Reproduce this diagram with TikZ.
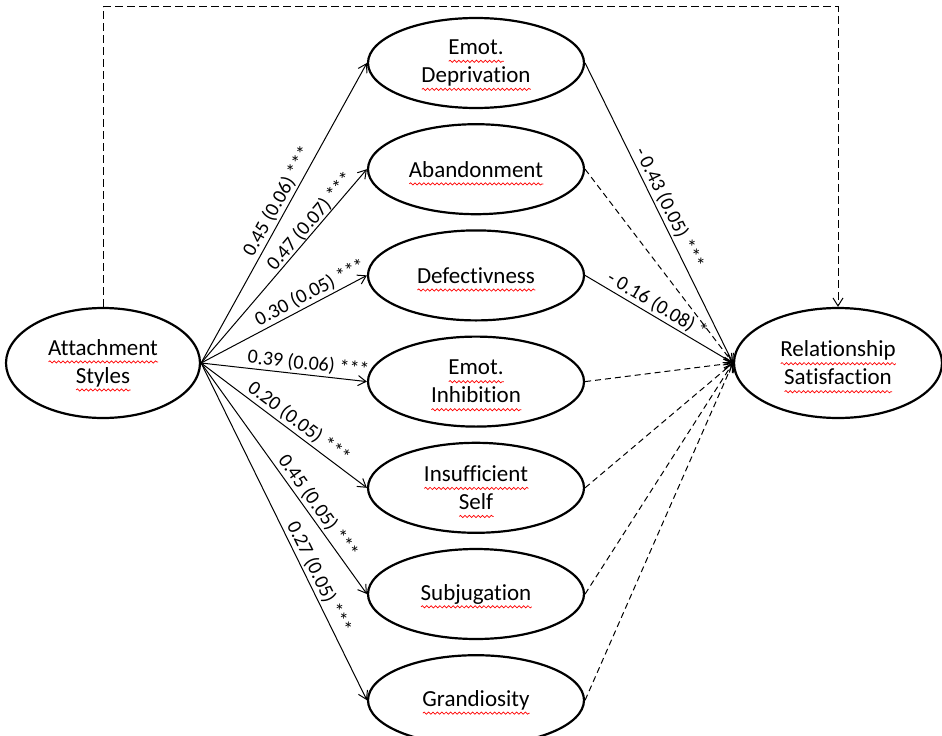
\documentclass[tikz,border=0pt]{standalone}
\usepackage{fontspec}
\setmainfont[Ligatures={NoCommon}]{Carlito}
\usepackage{xcolor}
\usetikzlibrary{shapes.geometric,positioning,arrows.meta,decorations.pathmorphing}
\newsavebox\spellbox
\newlength\spelllen
\newcommand{\spell}[1]{\sbox\spellbox{#1}\setlength\spelllen{\wd\spellbox}%
  \rlap{\smash{\tikz[baseline=0pt]\draw[red, line width=0.35pt, decorate, decoration={snake, amplitude=0.55pt, segment length=2.2pt}] (0pt,-3.4pt) -- (\spelllen,-3.4pt);}}\usebox\spellbox}

\begin{document}
\begin{tikzpicture}
\tikzstyle{construct}=[ellipse, draw, line width=1.1pt, inner sep=0pt, align=center, font=\fontsize{11.5}{14}\selectfont]
\tikzstyle{schema}=[construct, minimum width=108pt, minimum height=45pt]
\tikzstyle{effect}=[-{Straight Barb[length=4pt,width=5pt]}, line width=0.5pt]
\tikzstyle{nonsig}=[effect, dash pattern=on 3pt off 2pt]
\tikzstyle{coef}=[sloped, above, inner sep=1pt, font=\fontsize{10}{12}\selectfont]
\useasboundingbox (-51.5pt,-186pt) rectangle (419.5pt,181.5pt);
\node[construct, minimum width=97pt, minimum height=55pt] (att) at (0,0) {\spell{Attachment}\\\spell{Styles}};
\node[schema] (dep) at (186.5pt,150pt) {\spell{Emot.}\\\spell{Deprivation}};
\node[schema, below=7pt of dep] (aba) {\spell{Abandonment}};
\node[schema, below=7pt of aba] (def) {\spell{Defectivness}};
\node[schema, below=7pt of def] (inh) {\spell{Emot.}\\\spell{Inhibition}};
\node[schema, below=7pt of inh] (ins) {\spell{Insufficient}\\\spell{Self}};
\node[schema, below=7pt of ins] (sub) {\spell{Subjugation}};
\node[schema, below=7pt of sub] (gra) {\spell{Grandiosity}};
\node[construct, minimum width=104pt, minimum height=55pt] (rel) at (367.5pt,0) {\spell{Relationship}\\\spell{Satisfaction}};
% attachment to schemas
\draw[effect] (att.east) -- node[coef, pos=0.52] {0.45 (0.06) ***} (dep.west);
\draw[effect] (att.east) -- node[coef, pos=0.7, inner sep=0pt] {0.47 (0.07) ***} (aba.west);
\draw[effect] (att.east) -- node[coef, pos=0.69] {0.30 (0.05) ***} (def.west);
\draw[effect] (att.east) -- node[coef, pos=0.64] {0.39 (0.06) ***} (inh.west);
\draw[effect] (att.east) -- node[coef, pos=0.55] {0.20 (0.05) ***} (ins.west);
\draw[effect] (att.east) -- node[coef, pos=0.65] {0.45 (0.05) ***} (sub.west);
\draw[effect] (att.east) -- node[coef, pos=0.65] {0.27 (0.05) ***} (gra.west);
% schemas to satisfaction
\draw[effect] (dep.east) -- node[coef, pos=0.5] {- 0.43 (0.05) ***} (rel.west);
\draw[nonsig] (aba.east) -- (rel.west);
\draw[effect] (def.east) -- node[coef, pos=0.45] {- 0.16 (0.08) *} (rel.west);
\draw[nonsig] (inh.east) -- (rel.west);
\draw[nonsig] (ins.east) -- (rel.west);
\draw[nonsig] (sub.east) -- (rel.west);
\draw[nonsig] (gra.east) -- (rel.west);
% direct path
\draw[effect, dash pattern=on 4pt off 2pt] (att.north) -- ++(0,150pt) -| (rel.north);
\end{tikzpicture}
\end{document}
